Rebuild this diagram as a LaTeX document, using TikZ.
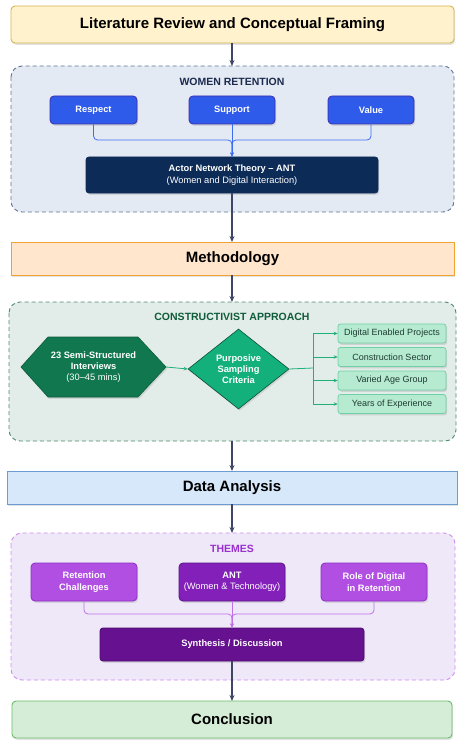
\documentclass[tikz,border=0pt]{standalone}
\usepackage{fontspec}
\setmainfont{Liberation Sans}
\usetikzlibrary{shapes.geometric,arrows.meta,shadows,calc}
\definecolor{arrowc}{HTML}{3F4565}
\definecolor{litfill}{HTML}{FFF2CC}\definecolor{litdraw}{HTML}{D6B44F}
\definecolor{metfill}{HTML}{FFE6CC}\definecolor{metdraw}{HTML}{F0A232}
\definecolor{dafill}{HTML}{D6E8FA}\definecolor{dadraw}{HTML}{6A9BD1}
\definecolor{cofill}{HTML}{D5EDD6}\definecolor{codraw}{HTML}{69BB6A}
\definecolor{wrfill}{HTML}{E4EAF4}\definecolor{wrdraw}{HTML}{5F7391}\definecolor{wrtext}{HTML}{1B2A4E}
\definecolor{bluefill}{HTML}{2F5BEA}\definecolor{bluedraw}{HTML}{3D2DB0}\definecolor{bluel}{HTML}{3D6EF0}
\definecolor{navy}{HTML}{0C2B57}
\definecolor{cafill}{HTML}{E2ECE8}\definecolor{cadraw}{HTML}{4E8A6E}\definecolor{catext}{HTML}{0F5C3A}
\definecolor{hexfill}{HTML}{11774F}\definecolor{hexdraw}{HTML}{0B5C3C}
\definecolor{diafill}{HTML}{13B07C}\definecolor{diadraw}{HTML}{0B4F36}
\definecolor{greenl}{HTML}{20B07A}
\definecolor{critfill}{HTML}{B6EBD2}\definecolor{critdraw}{HTML}{6ED0A3}\definecolor{crittext}{HTML}{1E3A30}
\definecolor{thfill}{HTML}{EEE8F8}\definecolor{thdraw}{HTML}{D08AF0}\definecolor{thtext}{HTML}{9B30D0}
\definecolor{plfill}{HTML}{B14FE3}\definecolor{pldraw}{HTML}{8A2FC2}
\definecolor{pmfill}{HTML}{8320BA}\definecolor{pmdraw}{HTML}{5A1385}
\definecolor{pdfill}{HTML}{66118F}\definecolor{pddraw}{HTML}{4A0A6E}
\definecolor{purpl}{HTML}{C070E8}
\tikzset{
  x=1pt,y=-1pt,
  shd/.style={drop shadow={opacity=0.22,shadow xshift=1.2pt,shadow yshift=-1.8pt}},
  stage/.style={shd,draw,line width=0.9pt},
  stagetext/.style={font=\bfseries\fontsize{15}{17}\selectfont,text=black},
  cont/.style={draw,dashed,dash pattern=on 4pt off 3pt,line width=0.9pt,rounded corners=11pt},
  ctitle/.style={font=\bfseries\fontsize{10.5}{12}\selectfont},
  sbox/.style={shd,draw,line width=0.8pt,rounded corners=4pt,text=white,font=\bfseries\fontsize{9.3}{11.4}\selectfont,align=center},
  crit/.style={shd,draw=critdraw,fill=critfill,line width=0.7pt,rounded corners=2.5pt,text=crittext,font=\fontsize{9}{10}\selectfont},
  mainarr/.style={draw=arrowc,line width=1.1pt,-{Stealth[length=6pt,width=5pt]}},
  sarr/.style={line width=0.8pt,-{Stealth[length=4pt,width=3.5pt]},rounded corners=4pt},
}
\begin{document}
\begin{tikzpicture}
\useasboundingbox (0,0) rectangle (473,754);
% Stage boxes
\path[stage,fill=litfill,draw=litdraw,rounded corners=4pt] (11,6) rectangle (454,43);
\node (lit) at (232.5,24.5) [stagetext] {Literature Review and Conceptual Framing};
\coordinate (litB) at (232,43);
% Women retention container
\path[cont,fill=wrfill,draw=wrdraw] (11,66) rectangle (454,212);
\coordinate (wrT) at (232,66);
\node (wrt) at (232,82) [ctitle,text=wrtext] {WOMEN RETENTION};
\node (resp) [sbox,fill=bluefill,draw=bluedraw,minimum width=87pt,minimum height=28pt] at (93.5,110) {Respect};
\node (supp) [sbox,fill=bluefill,draw=bluedraw,minimum width=86pt,minimum height=28pt] at (232,110) {Support};
\node (valu) [sbox,fill=bluefill,draw=bluedraw,minimum width=86pt,minimum height=28pt] at (371,110) {Value};
\node (antn) [sbox,fill=navy,draw=navy,rounded corners=3pt,minimum width=292pt,minimum height=36pt,font=\fontsize{9.3}{12}\selectfont] at (232,175) {{\bfseries Actor Network Theory -- ANT}\\(Women and Digital Interaction)};
\coordinate (j1) at (232,140);
\draw[sarr,draw=bluel] (resp.south) |- (j1) -- (antn.north);
\draw[sarr,draw=bluel] (valu.south) |- (j1) -- (antn.north);
\draw[sarr,draw=bluel] (supp.south) -- (antn.north);
\draw[mainarr] (litB) -- (wrT);
% Methodology
\path[stage,fill=metfill,draw=metdraw] (11,242) rectangle (454,275);
\node (met) at (232.5,258.5) [stagetext] {Methodology};
\coordinate (metT) at (232,242);\coordinate (metB) at (232,275);
\draw[mainarr] (antn.south) -- (metT);
% Constructivist container
\path[cont,fill=cafill,draw=cadraw] (9,302) rectangle (456,441);
\coordinate (caT) at (232,302);\coordinate (caB) at (232,441);
\draw[mainarr] (metB) -- (caT);
\node (cat) at (232,317) [ctitle,text=catext] {CONSTRUCTIVIST APPROACH};
\path[shd,fill=hexfill,draw=hexdraw,line width=0.6pt] (21,367) -- (48,337) -- (138,337) -- (166,367) -- (138,397) -- (48,397) -- cycle;
\node (hex) at (93.5,367) [text=white,font=\bfseries\fontsize{9.3}{11.2}\selectfont,align=center] {23 Semi-Structured\\Interviews\\{\mdseries(30--45 mins)}};
\coordinate (hexR) at (166,367);
\node (dia) [diamond,shd,fill=diafill,draw=diadraw,line width=0.6pt,inner sep=0pt,minimum width=101pt,minimum height=80pt,aspect=1.26,text=white,font=\bfseries\fontsize{9.3}{11.2}\selectfont,align=center] at (238.5,369) {Purposive\\Sampling\\Criteria};
\draw[sarr,draw=greenl] (hexR) -- (dia.west);
\node (c1) [crit,minimum width=108pt,minimum height=19pt] at (392,333.5) {Digital Enabled Projects};
\node (c2) [crit,minimum width=108pt,minimum height=19pt] at (392,357) {Construction Sector};
\node (c3) [crit,minimum width=108pt,minimum height=19pt] at (392,380.5) {Varied Age Group};
\node (c4) [crit,minimum width=108pt,minimum height=19pt] at (392,404) {Years of Experience};
\coordinate (br) at (313,368);
\draw[greenl,line width=0.8pt] (dia.east) -- (br);
\foreach \c in {c1,c2,c3,c4}{\draw[sarr,draw=greenl,rounded corners=0pt] (br) |- (\c.west);}
% Data analysis
\path[stage,fill=dafill,draw=dadraw] (7,471) rectangle (457,504);
\node (da) at (232,487.5) [stagetext] {Data Analysis};
\coordinate (daT) at (232,471);\coordinate (daB) at (232,504);
\draw[mainarr] (caB) -- (daT);
% Themes container
\path[cont,fill=thfill,draw=thdraw] (11,533) rectangle (455,680);
\coordinate (thT) at (232,533);\coordinate (thB) at (232,680);
\draw[mainarr] (daB) -- (thT);
\node (tht) at (232,549) [ctitle,text=thtext] {THEMES};
\node (rc) [sbox,fill=plfill,draw=pldraw,minimum width=106pt,minimum height=38pt] at (84,582) {Retention\\Challenges};
\node (ant2) [sbox,fill=pmfill,draw=pmdraw,minimum width=106pt,minimum height=38pt] at (232,582) {ANT\\{\mdseries(Women \& Technology)}};
\node (rd) [sbox,fill=plfill,draw=pldraw,minimum width=106pt,minimum height=38pt] at (374,582) {Role of Digital\\in Retention};
\node (syn) [sbox,fill=pdfill,draw=pddraw,rounded corners=3pt,minimum width=264pt,minimum height=33pt] at (232,644.5) {Synthesis / Discussion};
\coordinate (j2) at (232,614);
\draw[sarr,draw=purpl] (rc.south) |- (j2) -- (syn.north);
\draw[sarr,draw=purpl] (rd.south) |- (j2) -- (syn.north);
\draw[sarr,draw=purpl] (ant2.south) -- (syn.north);
% Conclusion
\path[stage,fill=cofill,draw=codraw,rounded corners=4pt] (12,701) rectangle (452,738);
\node (con) at (232,719.5) [stagetext] {Conclusion};
\coordinate (conT) at (232,701);
\draw[mainarr] (syn.south) -- (conT);
\end{tikzpicture}
\end{document}
